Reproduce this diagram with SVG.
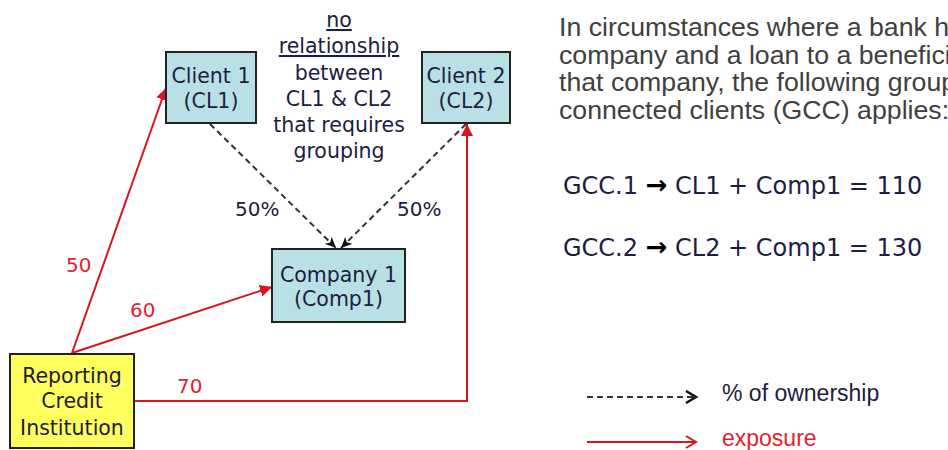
<svg xmlns="http://www.w3.org/2000/svg" width="948" height="450" viewBox="0 0 948 450">
<style>
.box{fill:#b9e0e4;stroke:#222;stroke-width:2}
.rci{fill:#ffff5e;stroke:#222;stroke-width:2}
.t{font-family:"DejaVu Sans",Verdana,sans-serif;font-size:20.5px;fill:#1c2040;text-anchor:middle}
.lab{font-family:"DejaVu Sans",Verdana,sans-serif;font-size:20px;fill:#e2232e}
.pct{font-family:"DejaVu Sans",Verdana,sans-serif;font-size:20px;fill:#1c2040}
.exp{fill:none;stroke:#d9141e;stroke-width:2}
.own{fill:none;stroke:#333;stroke-width:2;stroke-dasharray:6 4}
.para{font-family:"Liberation Sans",Arial,sans-serif;font-size:26.7px;fill:#404040}
.gcc{font-family:"DejaVu Sans",Verdana,sans-serif;font-size:24px;fill:#1c2040}
.arr{font-weight:bold;fill:#000;font-size:26px}
.leg{font-family:"Liberation Sans",Arial,sans-serif;font-size:23px}
</style>
<defs>
<marker id="ar" markerUnits="userSpaceOnUse" markerWidth="14" markerHeight="12" refX="12" refY="6" orient="auto">
<path d="M0,0 L12,6 L0,12 z" fill="#d9141e"/>
</marker>
<marker id="ab" markerUnits="userSpaceOnUse" markerWidth="14" markerHeight="12" refX="11" refY="5" orient="auto">
<path d="M0,0 L11,5 L0,10 L3,5 z" fill="#111"/>
</marker>
<marker id="lb" markerUnits="userSpaceOnUse" markerWidth="14" markerHeight="16" refX="11" refY="7" orient="auto">
<path d="M1,1 L11,7 L1,13" fill="none" stroke="#111" stroke-width="2.5"/>
</marker>
<marker id="lr" markerUnits="userSpaceOnUse" markerWidth="14" markerHeight="16" refX="11" refY="7" orient="auto">
<path d="M1,1 L11,7 L1,13" fill="none" stroke="#d9141e" stroke-width="2"/>
</marker>
</defs>

<g id="connectors">
<line class="exp" x1="72" y1="353" x2="166" y2="88" marker-end="url(#ar)"/>
<line class="exp" x1="72" y1="353" x2="272" y2="287" marker-end="url(#ar)"/>
<path class="exp" d="M134,401 H467 V124" marker-end="url(#ar)"/>
<line class="own" x1="210" y1="124" x2="336" y2="248" marker-end="url(#ab)"/>
<line class="own" x1="466" y1="124" x2="341" y2="248" marker-end="url(#ab)"/>
<text class="lab" x="66" y="272">50</text>
<text class="lab" x="130" y="317">60</text>
<text class="lab" x="177" y="393">70</text>
<text class="pct" x="235" y="216">50%</text>
<text class="pct" x="397" y="216">50%</text>
</g>

<g id="client1">
<rect class="box" x="166" y="52" width="90" height="71"/>
<text class="t" x="211" y="83">Client 1</text>
<text class="t" x="211" y="108">(CL1)</text>
</g>

<g id="client2">
<rect class="box" x="422" y="52" width="88" height="71"/>
<text class="t" x="466" y="83">Client 2</text>
<text class="t" x="466" y="108">(CL2)</text>
</g>

<g id="company1">
<rect class="box" x="272" y="249" width="133" height="73"/>
<text class="t" x="338.5" y="282">Company 1</text>
<text class="t" x="338.5" y="306">(Comp1)</text>
</g>

<g id="reporting">
<rect class="rci" x="10" y="354" width="124" height="94"/>
<text class="t" x="72" y="383">Reporting</text>
<text class="t" x="72" y="408">Credit</text>
<text class="t" x="72" y="435">Institution</text>
</g>

<g id="note">
<text class="t" x="339" y="27" text-decoration="underline">no</text>
<text class="t" x="339" y="53" text-decoration="underline">relationship</text>
<text class="t" x="339" y="80">between</text>
<text class="t" x="339" y="106">CL1 &amp; CL2</text>
<text class="t" x="339" y="132">that requires</text>
<text class="t" x="339" y="158">grouping</text>
</g>

<g id="explanation">
<text class="para" x="559" y="36">In circumstances where a bank h</text>
<text class="para" x="559" y="63.5">company and a loan to a benefici</text>
<text class="para" x="559" y="91">that company, the following grou<tspan>p</tspan></text>
<text class="para" x="559" y="118.5">connected clients (GCC) applies:</text>
<text class="gcc" x="563" y="194">GCC.1 <tspan class="arr">→</tspan> CL1 + Comp1 = 110</text>
<text class="gcc" x="563" y="256">GCC.2 <tspan class="arr">→</tspan> CL2 + Comp1 = 130</text>
</g>

<g id="legend">
<line class="own" x1="587" y1="397" x2="696" y2="397" stroke="#111" stroke-dasharray="5 4" marker-end="url(#lb)"/>
<text class="leg" x="722" y="401" fill="#1c2040">% of ownership</text>
<line class="exp" x1="587" y1="442" x2="696" y2="442" marker-end="url(#lr)"/>
<text class="leg" x="722" y="446" fill="#e2232e">exposure</text>
</g>
</svg>
